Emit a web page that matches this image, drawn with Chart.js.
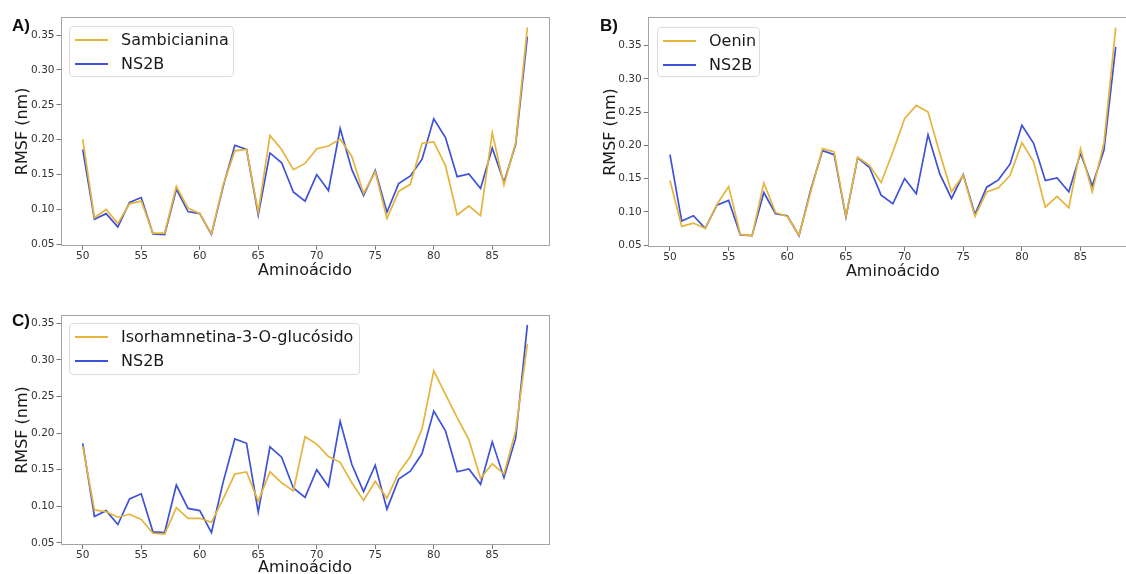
<!DOCTYPE html>
<html>
<head>
<meta charset="utf-8">
<script src="https://cdn.jsdelivr.net/npm/chart.js@4"></script>
<style>
  html, body { margin: 0; padding: 0; background: #fff; overflow: hidden; }
  #page { position: relative; width: 1126px; height: 574px; overflow: hidden; background: #fff; }
  canvas { position: absolute; }
  .tag { position: absolute; font: bold 17px "Liberation Sans", Arial, sans-serif; color: #111; line-height: 17px; }
  .legend { position: absolute; border: 1px solid #dcdcdc; border-radius: 4px; background: rgba(255,255,255,0.85); box-sizing: border-box; }
  .legend .ln { position: absolute; left: 5px; width: 33px; height: 2px; }
  .legend .tx { position: absolute; left: 51px; font: 16px "DejaVu Sans", sans-serif; color: #1a1a1a; line-height: 20px; white-space: nowrap; }
</style>
</head>
<body>
<div id="page">
  <canvas id="chartA" width="560" height="290" style="left:0px;top:0px"></canvas>
  <canvas id="chartB" width="600" height="290" style="left:560px;top:0px"></canvas>
  <canvas id="chartC" width="560" height="290" style="left:0px;top:298px"></canvas>
  <div class="tag" style="left:12px;top:17px">A)</div>
  <div class="tag" style="left:600px;top:17px">B)</div>
  <div class="tag" style="left:12px;top:312px">C)</div>
</div>
<script>
// residues on the x axis
var residues = [50,51,52,53,54,55,56,57,58,59,60,61,62,63,64,65,66,67,68,69,
  70,71,72,73,74,75,76,77,78,79,80,81,82,83,84,85,86,87,88];

// RMSF (nm)
var ns2b = [0.186,0.086,0.094,0.075,0.110,0.117,0.065,0.064,0.129,0.097,0.094,0.064,0.133,0.192,0.186,0.092,
  0.181,0.167,0.125,0.112,0.150,0.127,0.216,0.157,0.120,0.156,0.096,0.137,0.148,0.172,0.230,0.203,0.147,0.151,
  0.130,0.188,0.139,0.193,0.348];
var sambicianina = [0.201,0.088,0.100,0.080,0.108,0.112,0.066,0.066,0.133,0.102,0.094,0.065,0.135,0.184,0.186,0.096,
  0.206,0.186,0.157,0.166,0.187,0.191,0.201,0.176,0.123,0.154,0.087,0.126,0.136,0.195,0.197,0.163,0.092,0.105,
  0.091,0.210,0.135,0.196,0.361];
var oenin = [0.147,0.078,0.083,0.075,0.111,0.138,0.066,0.064,0.143,0.099,0.093,0.065,0.130,0.195,0.190,0.093,
  0.182,0.170,0.144,0.190,0.240,0.260,0.250,0.188,0.130,0.155,0.093,0.130,0.136,0.155,0.204,0.175,0.107,0.123,
  0.106,0.195,0.130,0.204,0.377];
var isorhamnetina = [0.182,0.095,0.0925,0.085,0.089,0.082,0.063,0.062,0.098,0.0835,0.0835,0.078,0.110,0.144,0.147,0.107,
  0.147,0.132,0.121,0.195,0.185,0.168,0.160,0.132,0.108,0.134,0.111,0.146,0.168,0.206,0.285,0.253,0.221,0.191,
  0.138,0.158,0.144,0.203,0.322];

var gold = "#e4b43c";
var blue = "#3d52d6";

// box round the plot area, like the matplotlib spines
var framePlugin = {
  id: "frame",
  afterDraw(chart) {
    var a = chart.chartArea;
    var ctx = chart.ctx;
    ctx.save();
    ctx.strokeStyle = "#a4a4a4";
    ctx.lineWidth = 1;
    ctx.strokeRect(Math.round(a.left) + 0.5, Math.round(a.top) + 0.5,
      Math.round(a.right - a.left) - 1, Math.round(a.bottom - a.top) - 1);
    ctx.restore();
  }
};

function pts(vals) {
  return residues.map((r, i) => ({ x: r, y: vals[i] }));
}

function addLegend(left, top, width, height, name) {
  var box = document.createElement("div");
  box.className = "legend";
  box.style.left = left + "px";
  box.style.top = top + "px";
  box.style.width = width + "px";
  box.style.height = height + "px";
  [[name, gold, 12], ["NS2B", blue, 35.5]].forEach((it) => {
    var ln = document.createElement("div");
    ln.className = "ln";
    ln.style.top = it[2] + "px";
    ln.style.background = it[1];
    box.appendChild(ln);
    var tx = document.createElement("div");
    tx.className = "tx";
    tx.style.top = (it[2] - 9) + "px";
    tx.textContent = it[0];
    box.appendChild(tx);
  });
  document.getElementById("page").appendChild(box);
}

function makePanel(id, name, vals, yMin, yMax, p) {
  var tickFont = { family: "DejaVu Sans", size: 10.5 };
  var titleFont = { family: "DejaVu Sans", size: 16 };
  new Chart(document.getElementById(id), {
    type: "line",
    data: {
      datasets: [
        { label: name, data: pts(vals), borderColor: gold, borderWidth: 1.7, pointRadius: 0, tension: 0 },
        { label: "NS2B", data: pts(ns2b), borderColor: blue, borderWidth: 1.7, pointRadius: 0, tension: 0 }
      ]
    },
    options: {
      responsive: false,
      animation: false,
      layout: { padding: { top: p.padTop, right: p.padRight, left: 0, bottom: 0 } },
      plugins: { legend: { display: false }, tooltip: { enabled: false } },
      scales: {
        x: {
          type: "linear",
          min: 48.1,
          max: 89.9,
          afterFit: (s) => { s.height = p.xHeight; },
          border: { display: false },
          grid: { drawOnChartArea: false, drawTicks: true, tickLength: 4, tickColor: "#777" },
          ticks: { stepSize: 5, includeBounds: false, maxRotation: 0, padding: 0, color: "#333", font: tickFont },
          title: { display: true, text: "Aminoácido", color: "#1a1a1a", font: titleFont, padding: { top: 0, bottom: p.xTitlePad } }
        },
        y: {
          min: yMin,
          max: yMax,
          afterFit: (s) => { s.width = p.yWidth; },
          border: { display: false },
          grid: { drawOnChartArea: false, drawTicks: true, tickLength: 4, tickColor: "#777" },
          ticks: { stepSize: 0.05, includeBounds: false, padding: 2, color: "#333", font: tickFont,
            callback: (v) => v.toFixed(2) },
          title: { display: true, text: "RMSF (nm)", color: "#1a1a1a", font: titleFont, padding: { top: p.yTitlePad, bottom: 0 } }
        }
      }
    },
    plugins: [framePlugin]
  });
}

makePanel("chartA", "Sambicianina", sambicianina, 0.048, 0.376,
  { padTop: 17, padRight: 10.4, xHeight: 44.3, yWidth: 60.5, xTitlePad: 9.4, yTitlePad: 13.4 });
makePanel("chartB", "Oenin", oenin, 0.047, 0.393,
  { padTop: 17, padRight: 22, xHeight: 43, yWidth: 87.7, xTitlePad: 8.4, yTitlePad: 41 });
makePanel("chartC", "Isorhamnetina-3-O-glucósido", isorhamnetina, 0.047, 0.3614,
  { padTop: 17, padRight: 10.4, xHeight: 43, yWidth: 60.5, xTitlePad: 10.4, yTitlePad: 13.4 });

addLegend(69, 26, 165, 51, "Sambicianina");
addLegend(657, 27, 103, 50, "Oenin");
addLegend(69, 323, 291, 52, "Isorhamnetina-3-O-glucósido");
</script>
</body>
</html>
